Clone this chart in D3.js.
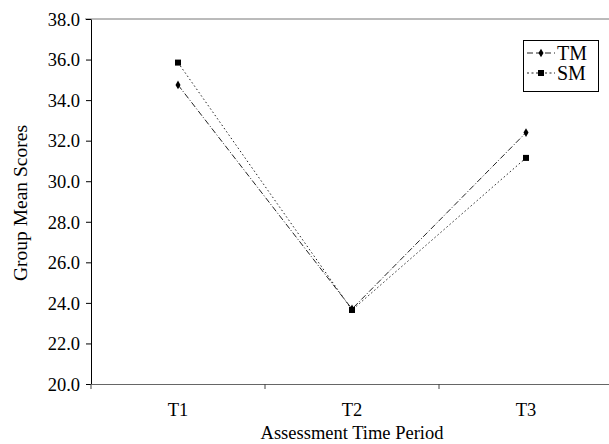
<!DOCTYPE html>
<html><head><meta charset="utf-8">
<script src="https://cdn.jsdelivr.net/npm/d3@7"></script>
<style>body{margin:0;background:#fff;} text{font-family:"Liberation Serif","Times New Roman",serif;fill:#000;}</style>
</head><body>
<svg id="c" width="609" height="444"></svg>
<script>
const categories = ["T1","T2","T3"];
const tmValues = [34.75, 23.7, 32.4];
const smValues = [35.85, 23.65, 31.15];
const seriesNames = ["TM","SM"];
const yTicks = [20,22,24,26,28,30,32,34,36,38];

const svg = d3.select("#c");
const mLeft = 91, mRight = 613, mTop = 19, mBottom = 384;
const x = d3.scaleBand().domain(categories).range([mLeft, mRight]);
const y = d3.scaleLinear().domain([20,38]).range([mBottom, mTop]);

// top frame line
svg.append("line").attr("x1",85).attr("x2",mRight).attr("y1",mTop).attr("y2",mTop)
  .attr("stroke","#777").attr("stroke-width",1);

// y axis
const ya = svg.append("g").attr("transform",`translate(${mLeft},0)`)
  .call(d3.axisLeft(y).tickValues(yTicks).tickFormat(d3.format(".1f")).tickSize(5).tickSizeOuter(0));
ya.select(".domain").attr("stroke","#000");
ya.selectAll(".tick line").attr("stroke","#000");
ya.selectAll(".tick text").style("font-size","18.5px").attr("x",-11).attr("dy","0.34em");

// x axis
const xa = svg.append("g").attr("transform",`translate(0,${mBottom})`)
  .call(d3.axisBottom(x).tickSize(0).tickSizeOuter(0));
xa.select(".domain").attr("stroke","#666");
xa.selectAll(".tick text").style("font-size","18.5px").attr("y",0).attr("dy","32");
// boundary ticks
const bounds = categories.map(c => x(c)).concat([x(categories[2]) + x.bandwidth()]);
svg.append("g").selectAll("line").data(bounds).join("line")
  .attr("x1",d=>d).attr("x2",d=>d).attr("y1",mBottom).attr("y2",mBottom+5)
  .attr("stroke","#444");

const cx = c => x(c) + x.bandwidth()/2;
const line = d3.line().x((d,i)=>cx(categories[i])).y(d=>y(d));

svg.append("path").datum(tmValues).attr("d",line).attr("fill","none")
  .attr("stroke","#222").attr("stroke-width",1).attr("stroke-dasharray","6,2,1,2");
svg.append("path").datum(smValues).attr("d",line).attr("fill","none")
  .attr("stroke","#222").attr("stroke-width",1).attr("stroke-dasharray","1.5,2.5");

const diamond = d3.symbol().type(d3.symbolDiamond).size(22);
svg.append("g").selectAll("path").data(tmValues).join("path")
  .attr("d",diamond).attr("transform",(d,i)=>`translate(${cx(categories[i])},${y(d)})`).attr("fill","#000");
svg.append("g").selectAll("rect").data(smValues).join("rect")
  .attr("x",(d,i)=>cx(categories[i])-3).attr("y",d=>y(d)-3).attr("width",6).attr("height",6).attr("fill","#000");

// axis titles
svg.append("text").attr("x",352).attr("y",439).attr("text-anchor","middle").style("font-size","18.5px").text("Assessment Time Period");
svg.append("text").attr("transform","translate(27,203) rotate(-90)").attr("text-anchor","middle").style("font-size","19.5px").text("Group Mean Scores");

// legend
const lg = svg.append("g");
lg.append("rect").attr("x",523.5).attr("y",40.5).attr("width",75).attr("height",51).attr("fill","#fff").attr("stroke","#000");
[[seriesNames[0],53],[seriesNames[1],73]].forEach(([n,yy],i)=>{
  lg.append("line").attr("x1",527).attr("x2",555).attr("y1",yy).attr("y2",yy).attr("stroke","#222").attr("stroke-dasharray",i===0?"6,3":"2,2.5");
  if(i===0) lg.append("path").attr("d",diamond).attr("transform",`translate(541,${yy})`).attr("fill","#000");
  else lg.append("rect").attr("x",538).attr("y",yy-3).attr("width",6).attr("height",6).attr("fill","#000");
  lg.append("text").attr("x",557).attr("y",yy+7).style("font-size","20px").text(n);
});
</script>
</body></html>
